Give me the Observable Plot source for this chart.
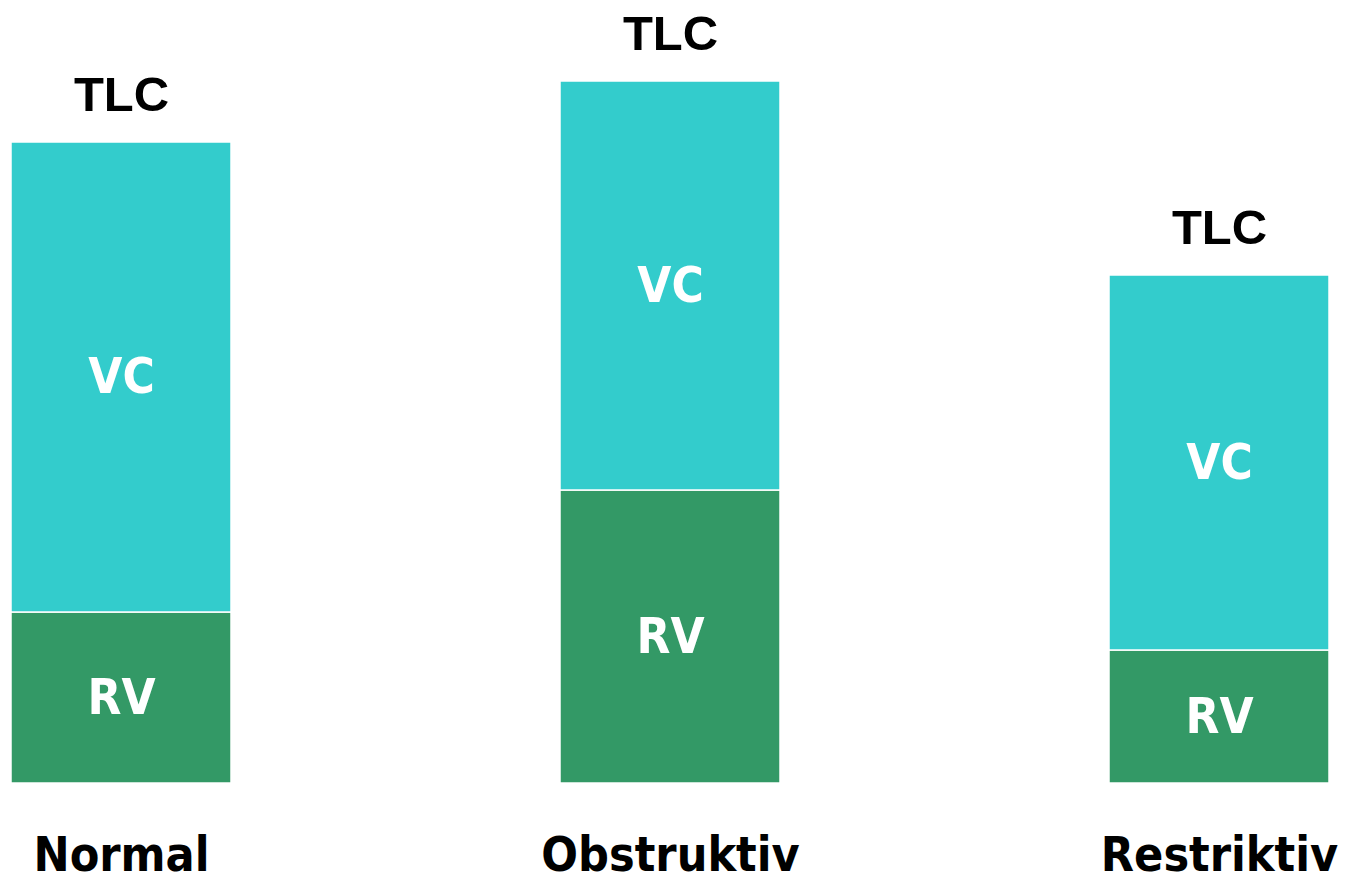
<!DOCTYPE html>
<html>
<head>
<meta charset="utf-8">
<script src="https://cdn.jsdelivr.net/npm/d3@7"></script>
<script src="https://cdn.jsdelivr.net/npm/@observablehq/plot@0.6"></script>
<style>
  html, body { margin: 0; padding: 0; background: #fff; }
  #chart svg { display: block; overflow: visible; }
</style>
</head>
<body>
<div id="chart"></div>
<script>
// Lung volumes (litres)
const categories = ["Normal", "Obstruktiv", "Restriktiv"];
const rvValues = [1.71, 2.93, 1.33];
const vcValues = [4.70, 4.09, 3.75];
const segmentNames = ["RV", "VC"];
const totalLabel = "TLC";
const colors = { RV: "#339966", VC: "#33CCCC" };

const rows = [];
categories.forEach((c, i) => {
  rows.push({ cat: c, seg: "RV", y1: 0, y2: rvValues[i] });
  rows.push({ cat: c, seg: "VC", y1: rvValues[i], y2: rvValues[i] + vcValues[i] });
});
const totals = categories.map((c, i) => ({ cat: c, tlc: rvValues[i] + vcValues[i] }));

const labelFont = "'DejaVu Sans Condensed', 'DejaVu Sans', sans-serif";

const chart = Plot.plot({
  width: 1347,
  height: 880,
  marginTop: 0,
  marginBottom: 97,
  marginLeft: 10,
  marginRight: 18,
  x: { domain: categories, paddingInner: 0.6, paddingOuter: 0, axis: null },
  y: { domain: [0, 7.83], axis: null },
  color: { domain: segmentNames, range: segmentNames.map(s => colors[s]) },
  style: { background: "#fff" },
  marks: [
    Plot.rectY(rows, { x: "cat", y1: "y1", y2: "y2", fill: "seg", stroke: "#fff", strokeWidth: 1.5 }),
    Plot.text(rows, {
      x: "cat", y: d => (d.y1 + d.y2) / 2, text: "seg",
      fill: "#fff", fontSize: 49, fontWeight: "bold", fontFamily: labelFont,
      lineAnchor: "middle", fontStretch: "condensed"
    }),
    Plot.text(totals, {
      x: "cat", y: "tlc", text: () => totalLabel,
      fill: "#000", fontSize: 49, fontWeight: "bold",
      fontFamily: "'Liberation Sans', Arial, sans-serif",
      lineAnchor: "bottom", dy: -32
    }),
    Plot.text(categories, {
      x: d => d, y: () => 0, text: d => d,
      fill: "#000", fontSize: 48, fontWeight: "bold", fontFamily: labelFont,
      lineAnchor: "bottom", dy: 87, fontStretch: "condensed"
    })
  ]
});
document.getElementById("chart").appendChild(chart);
</script>
</body>
</html>
